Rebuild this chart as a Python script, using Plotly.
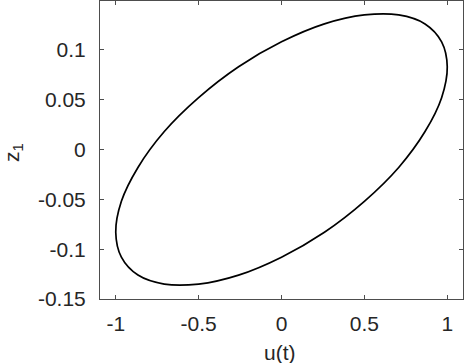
import plotly.graph_objects as go

u_vals = [1.0, 0.966, 0.866, 0.707, 0.5, 0.259, 0.0, -0.259, -0.5, -0.707, -0.866, -0.966,
          -1.0, -0.966, -0.866, -0.707, -0.5, -0.259, 0.0, 0.259, 0.5, 0.707, 0.866, 0.966, 1.0]
z_vals = [0.083, 0.108, 0.126, 0.135, 0.135, 0.126, 0.108, 0.083, 0.052, 0.018, -0.018, -0.052,
          -0.083, -0.108, -0.126, -0.135, -0.135, -0.126, -0.108, -0.083, -0.052, -0.018, 0.018, 0.052, 0.083]

x_ticks = [-1, -0.5, 0, 0.5, 1]
x_ticktext = ["-1", "-0.5", "0", "0.5", "1"]
y_ticks = [-0.15, -0.1, -0.05, 0, 0.05, 0.1]
y_ticktext = ["-0.15", "-0.1", "-0.05", "0", "0.05", "0.1"]

fig = go.Figure()
fig.add_trace(go.Scatter(x=u_vals, y=z_vals, mode="lines",
                         line=dict(color="black", width=1.7, shape="spline", smoothing=1.0),
                         showlegend=False, hoverinfo="skip"))

font = dict(family="Liberation Sans, Arial, sans-serif", size=21, color="#262626")
axis_common = dict(showgrid=False, zeroline=False, showline=True, linecolor="#4d4d4d", linewidth=1,
                   mirror="ticks", ticks="inside", ticklen=4, tickcolor="#4d4d4d", tickwidth=1,
                   tickfont=font, automargin=False)

fig.update_layout(
    width=465, height=363,
    margin=dict(l=100, r=2, t=1, b=64, autoexpand=False),
    paper_bgcolor="white", plot_bgcolor="white",
    font=font,
    xaxis=dict(range=[-1.095, 1.095], tickvals=x_ticks, ticktext=x_ticktext,
               ticklabelstandoff=6, **axis_common),
    yaxis=dict(range=[-0.15, 0.149], tickvals=y_ticks, ticktext=y_ticktext,
               ticklabelstandoff=9, **axis_common),
    annotations=[
        dict(text="u(t)", xref="paper", yref="paper", x=0.495, y=-(352 - 299) / 298,
             xanchor="center", yanchor="middle", showarrow=False, font=font),
        dict(text="z<sub>1</sub>", xref="paper", yref="paper", x=-(100 - 13) / 363, y=(299 - 153) / 298,
             xanchor="center", yanchor="middle", textangle=-90, showarrow=False, font=font),
    ],
)

fig.write_html("out.html", config={"displayModeBar": False},
               post_script="document.body.style.margin='0';document.body.style.overflow='hidden';")
